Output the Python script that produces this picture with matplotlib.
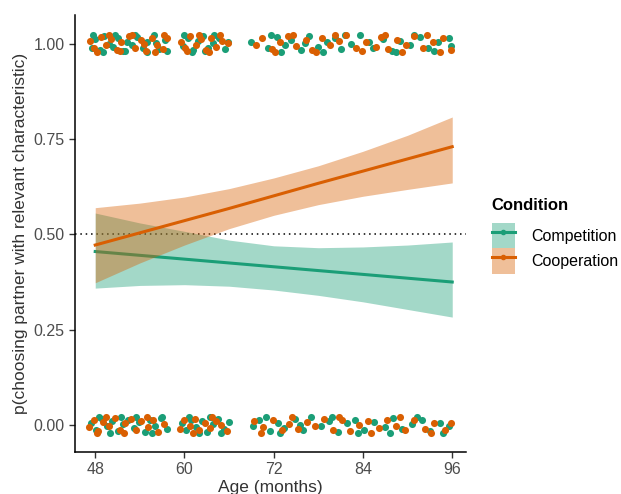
import numpy as np
import matplotlib
matplotlib.use("Agg")
import matplotlib.pyplot as plt
from matplotlib.patches import Patch
from matplotlib.lines import Line2D

plt.rcParams['font.family'] = ['Liberation Sans', 'DejaVu Sans']

# fitted curves + 95% bands, read at these ages
fit_age = [48, 54, 60, 66, 72, 78, 84, 90, 96]
coop_fit = [0.472, 0.504, 0.536, 0.568, 0.601, 0.634, 0.666, 0.698, 0.730]
coop_lo = [0.373, 0.425, 0.472, 0.515, 0.550, 0.578, 0.600, 0.618, 0.635]
coop_hi = [0.570, 0.582, 0.598, 0.620, 0.648, 0.680, 0.718, 0.760, 0.808]
comp_fit = [0.455, 0.445, 0.435, 0.425, 0.415, 0.405, 0.395, 0.385, 0.375]
comp_lo = [0.359, 0.366, 0.368, 0.364, 0.354, 0.340, 0.323, 0.303, 0.283]
comp_hi = [0.556, 0.530, 0.508, 0.485, 0.470, 0.465, 0.467, 0.472, 0.480]

# jittered raw responses (choice = 1 at top, 0 at bottom)
comp_top_age = [47.5, 48.0, 48.6, 49.2, 49.9, 50.4, 51.1, 51.8, 52.3, 53.0, 53.6, 54.4, 55.0, 55.9, 56.6, 57.4,
                47.7, 49.0, 50.7, 52.0, 53.3, 54.9, 56.2, 57.7,
                59.8, 60.5, 61.2, 61.8, 62.5, 63.1, 63.9, 64.6, 65.4, 60.0, 61.0, 62.8, 64.0, 65.8,
                69.0, 71.2, 72.4, 73.5, 74.3, 75.6, 76.8, 77.9, 79.1, 80.2, 81.0, 82.4, 83.6, 85.3, 86.7,
                87.9, 89.0, 90.3, 91.6, 92.8, 94.1, 95.6, 71.6, 73.0, 76.2, 78.6, 81.6, 84.8, 88.4, 90.9, 93.5, 95.9]
comp_top_y = [0.990, 1.012, 0.984, 1.020, 1.000, 0.992, 1.015, 0.982, 1.006, 0.996, 1.018, 0.988, 1.004, 1.022, 0.986, 1.010,
              1.024, 0.978, 1.022, 0.980, 1.024, 0.978, 1.002, 0.980,
              0.994, 1.016, 0.984, 1.008, 1.020, 0.990, 1.002, 1.014, 0.986, 1.024, 0.978, 0.980, 1.024, 1.006,
              1.004, 0.988, 1.018, 0.996, 1.010, 0.984, 1.020, 0.992, 1.006, 1.016, 0.986, 1.000, 1.022, 0.990, 1.012,
              0.982, 1.008, 0.996, 1.018, 0.988, 1.004, 1.014, 1.024, 0.978, 1.002, 0.978, 1.024, 1.006, 0.978, 1.024, 0.980, 0.994]
coop_top_age = [47.3, 47.9, 48.8, 49.5, 50.1, 50.9, 51.5, 52.6, 53.3, 54.1, 54.8, 55.6, 56.3, 57.1, 57.7,
                48.3, 49.8, 51.3, 52.9, 54.5, 56.0, 57.3,
                59.5, 60.1, 60.8, 61.5, 62.2, 62.9, 63.6, 64.3, 65.0, 65.9, 60.4, 61.9, 63.3, 64.8,
                69.6, 70.4, 71.8, 72.9, 73.9, 75.0, 76.3, 77.2, 78.5, 79.6, 80.8, 81.7, 83.0, 84.4, 85.8,
                86.4, 87.4, 88.6, 89.8, 90.9, 92.1, 93.4, 94.8, 95.9, 72.2, 74.6, 77.7, 80.3, 83.9, 87.0, 89.2, 92.6, 94.4]
coop_top_y = [1.008, 0.988, 1.018, 0.996, 1.012, 0.984, 1.004, 1.020, 0.990, 1.010, 0.982, 1.016, 0.998, 0.986, 1.014,
              0.978, 1.024, 0.980, 1.022, 1.000, 0.978, 1.024,
              1.006, 0.990, 1.020, 0.996, 1.012, 0.984, 1.016, 0.992, 1.008, 1.002, 0.980, 1.024, 0.978, 1.022,
              0.996, 1.014, 0.986, 1.006, 1.020, 0.994, 1.010, 0.984, 1.016, 0.998, 1.008, 1.022, 0.988, 1.004, 0.992,
              1.018, 0.986, 1.010, 0.998, 1.020, 0.990, 1.006, 1.014, 0.984, 0.978, 1.024, 0.978, 1.024, 0.980, 1.024, 0.978, 1.022, 0.978]
comp_bot_age = [47.4, 48.1, 48.9, 49.6, 50.3, 51.0, 51.7, 52.4, 53.2, 53.9, 54.7, 55.3, 56.0, 56.8, 57.6,
                48.5, 50.0, 51.4, 53.5, 55.7, 57.0,
                59.6, 60.2, 60.9, 61.6, 62.3, 63.0, 63.8, 64.5, 65.3, 66.0, 60.6, 61.9, 63.4, 64.9,
                69.2, 70.0, 71.5, 72.6, 73.4, 74.8, 76.0, 77.0, 78.3, 79.4, 80.6, 81.8, 82.9, 84.2, 85.5,
                86.9, 88.1, 89.3, 90.6, 91.9, 93.0, 94.3, 95.5, 71.0, 72.9, 75.5, 79.9, 83.3, 87.6, 91.2, 94.8]
comp_bot_y = [0.004, -0.012, 0.016, -0.004, 0.010, -0.016, 0.002, 0.014, -0.008, 0.008, -0.018, 0.012, -0.002, 0.018, -0.010,
              0.022, -0.022, 0.020, 0.022, -0.022, 0.020,
              0.006, -0.014, 0.014, -0.006, 0.010, -0.018, 0.002, 0.016, -0.010, 0.008, 0.022, -0.022, 0.020, -0.020,
              -0.004, 0.012, -0.016, 0.006, -0.008, 0.016, -0.012, 0.020, -0.002, 0.010, -0.018, 0.004, 0.014, -0.014, 0.008,
              -0.006, 0.018, -0.010, 0.002, 0.012, -0.016, 0.006, -0.004, 0.022, -0.022, 0.000, 0.022, -0.022, -0.020, 0.022, -0.022]
coop_bot_age = [47.2, 47.8, 48.4, 49.0, 49.8, 50.6, 51.3, 52.0, 52.8, 53.5, 54.2, 55.1, 55.8, 56.5, 57.3,
                48.2, 49.4, 51.9, 54.9,
                59.4, 60.0, 60.7, 61.4, 62.0, 62.7, 63.4, 64.2, 64.9, 65.7, 61.1, 63.7,
                69.4, 70.6, 71.9, 73.1, 74.0, 75.3, 76.5, 77.6, 78.8, 80.0, 81.2, 82.2, 83.4, 84.7, 86.1,
                87.2, 88.4, 89.6, 90.8, 92.3, 93.6, 95.0, 95.9, 70.3, 74.4, 80.8, 85.1, 89.0, 93.2]
coop_bot_y = [-0.006, 0.014, -0.016, 0.008, -0.002, 0.018, -0.012, 0.004, 0.016, -0.014, 0.010, -0.006, 0.012, -0.018, 0.002,
              -0.022, 0.022, -0.022, 0.022,
              -0.010, 0.012, -0.004, 0.016, -0.014, 0.006, -0.008, 0.010, 0.000, -0.016, -0.022, 0.022,
              0.010, -0.006, 0.014, -0.014, 0.002, -0.010, 0.008, -0.002, 0.016, -0.012, 0.012, -0.016, 0.000, 0.010, -0.008,
              0.014, -0.004, -0.014, 0.012, -0.010, 0.004, -0.012, 0.006, -0.020, 0.020, 0.022, -0.022, 0.020, -0.022]

green = '#1B9E77'
orange = '#D95F02'

fig = plt.figure(figsize=(6.21, 4.94), dpi=100)
ax = fig.add_axes([0.121, 0.085, 0.630, 0.885])

ax.axhline(0.5, color='black', ls=(0, (1, 2.5)), lw=1.1, zorder=1)

ax.fill_between(fit_age, comp_lo, comp_hi, color=green, alpha=0.4, lw=0, zorder=2)
ax.plot(fit_age, comp_fit, color=green, lw=2.2, zorder=3)
ax.fill_between(fit_age, coop_lo, coop_hi, color=orange, alpha=0.4, lw=0, zorder=4)
ax.plot(fit_age, coop_fit, color=orange, lw=2.2, zorder=5)

pt = 26
ax.scatter(comp_top_age, comp_top_y, s=pt, color=green, lw=0, zorder=6)
ax.scatter(coop_top_age, coop_top_y, s=pt, color=orange, lw=0, zorder=6)
ax.scatter(comp_bot_age, comp_bot_y, s=pt, color=green, lw=0, zorder=6)
ax.scatter(coop_bot_age, coop_bot_y, s=pt, color=orange, lw=0, zorder=6)

ax.set_xlim(45.3, 97.9)
ax.set_ylim(-0.071, 1.076)
ax.set_xticks([48, 60, 72, 84, 96])
ax.set_yticks([0, 0.25, 0.5, 0.75, 1.0])
ax.set_yticklabels(['0.00', '0.25', '0.50', '0.75', '1.00'])
ax.tick_params(labelsize=11.5, labelcolor='#4d4d4d', length=4, width=1, color='#333333')
for s in ['top', 'right']:
    ax.spines[s].set_visible(False)
for s in ['left', 'bottom']:
    ax.spines[s].set_linewidth(1.1)
ax.set_xlabel('Age (months)', fontsize=12.5, color='#333333', labelpad=2)
ax.set_ylabel('p(choosing partner with relevant characteristic)', fontsize=12.5, color='#333333', labelpad=4)

# legend: title placed on its own, keys below it
fig.text(0.792, 0.585, 'Condition', fontsize=12, fontweight='bold', va='center', ha='left')
handles = [(Patch(facecolor=green, alpha=0.4, lw=0), Line2D([], [], color=green, lw=2.2, marker='o', ms=3)),
           (Patch(facecolor=orange, alpha=0.4, lw=0), Line2D([], [], color=orange, lw=2.2, marker='o', ms=3))]
leg = fig.legend(handles, ['Competition', 'Cooperation'],
                 loc='upper left', bbox_to_anchor=(0.774, 0.572), frameon=False,
                 fontsize=11.5, handlelength=1.45, handleheight=2.1, handletextpad=1.0,
                 labelspacing=0.0, borderpad=0.2)

fig.savefig('out.png', dpi=100)
